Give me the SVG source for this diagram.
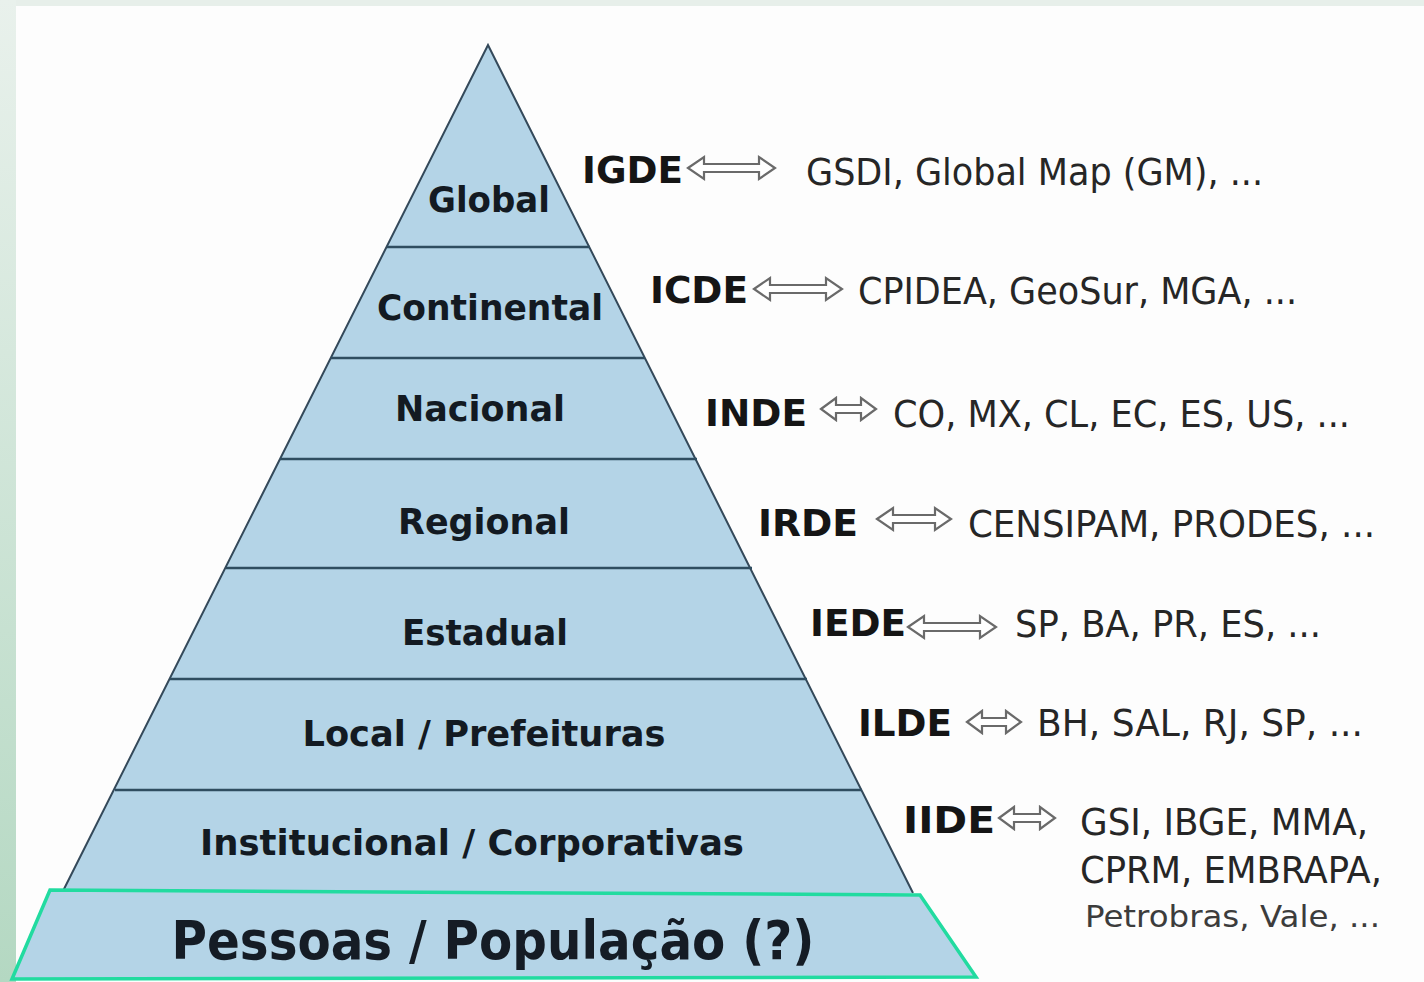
<svg xmlns="http://www.w3.org/2000/svg" width="1424" height="982" viewBox="0 0 1424 982">
<defs>
<linearGradient id="side" x1="0" y1="0" x2="0" y2="1">
<stop offset="0" stop-color="#e9f1ec"/>
<stop offset="1" stop-color="#b4d8c2"/>
</linearGradient>
<style>
.layer{fill:#b4d4e7;stroke:none}
.sep{stroke:#2f4d60;stroke-width:2.5;fill:none}
.edge{stroke:#34495a;stroke-width:2;fill:none}
.lbl{font-family:"DejaVu Sans",Verdana,sans-serif;font-weight:bold;font-size:35px;fill:#131a22;text-anchor:middle}
.code{font-family:"DejaVu Sans Condensed","DejaVu Sans",sans-serif;font-weight:bold;font-size:38px;fill:#151515}
.ex{font-family:"DejaVu Sans Condensed","DejaVu Sans",sans-serif;font-size:38px;fill:#262626}
.arr{fill:#ffffff;stroke:#6a6a6a;stroke-width:2.2;stroke-linejoin:miter}
</style>
</defs>
<rect x="0" y="0" width="1424" height="982" fill="#e7efea"/>
<rect x="0" y="0" width="16" height="982" fill="url(#side)"/>
<rect x="16" y="6" width="1408" height="976" fill="#fdfdfd"/>

<g id="pyramid">
<polygon class="layer" points="488,45 62,893 913,893"/>
<polyline class="edge" points="62,893 488,45 913,893"/>
<g class="seps">
<line class="sep" x1="387" y1="247" x2="590" y2="247"/>
<line class="sep" x1="331" y1="358" x2="645" y2="358"/>
<line class="sep" x1="280" y1="459" x2="697" y2="459"/>
<line class="sep" x1="226" y1="568" x2="752" y2="568"/>
<line class="sep" x1="170" y1="679" x2="807" y2="679"/>
<line class="sep" x1="115" y1="790" x2="862" y2="790"/>
</g>
</g>

<g id="n-global"><text class="lbl" x="489" y="212" textLength="122" lengthAdjust="spacingAndGlyphs">Global</text></g>
<g id="n-continental"><text class="lbl" x="490" y="320" textLength="226" lengthAdjust="spacingAndGlyphs">Continental</text></g>
<g id="n-nacional"><text class="lbl" x="480" y="421" textLength="170" lengthAdjust="spacingAndGlyphs">Nacional</text></g>
<g id="n-regional"><text class="lbl" x="484" y="534" textLength="172" lengthAdjust="spacingAndGlyphs">Regional</text></g>
<g id="n-estadual"><text class="lbl" x="485" y="645" textLength="166" lengthAdjust="spacingAndGlyphs">Estadual</text></g>
<g id="n-local"><text class="lbl" x="484" y="746" textLength="363" lengthAdjust="spacingAndGlyphs">Local / Prefeituras</text></g>
<g id="n-institucional"><text class="lbl" x="472" y="855" textLength="544" lengthAdjust="spacingAndGlyphs">Institucional / Corporativas</text></g>
<g id="n-pessoas">
<polygon points="50,890 920,895 976,977 12,979" fill="#b4d4e7" stroke="#22dba0" stroke-width="3.5" stroke-linejoin="miter"/>
<text x="493" y="959" font-family="'DejaVu Sans',sans-serif" font-weight="bold" font-size="54" fill="#151c25" text-anchor="middle" textLength="643" lengthAdjust="spacingAndGlyphs">Pessoas / População (?)</text>
</g>

<g id="connectors">
<path class="arr" d="M688,168 L704,157 L704,164 L759,164 L759,157 L775,168 L759,179 L759,172 L704,172 L704,179 Z"/>
<path class="arr" d="M754,289 L770,278 L770,285 L826,285 L826,278 L842,289 L826,300 L826,293 L770,293 L770,300 Z"/>
<path class="arr" d="M821,409 L836,398 L836,405 L861,405 L861,398 L876,409 L861,420 L861,413 L836,413 L836,420 Z"/>
<path class="arr" d="M877,519 L893,508 L893,515 L935,515 L935,508 L951,519 L935,530 L935,523 L893,523 L893,530 Z"/>
<path class="arr" d="M908,627 L924,616 L924,623 L980,623 L980,616 L996,627 L980,638 L980,631 L924,631 L924,638 Z"/>
<path class="arr" d="M967,722 L982,711 L982,718 L1006,718 L1006,711 L1021,722 L1006,733 L1006,726 L982,726 L982,733 Z"/>
<path class="arr" d="M999,818 L1014,807 L1014,814 L1040,814 L1040,807 L1055,818 L1040,829 L1040,822 L1014,822 L1014,829 Z"/>
</g>

<g id="n-igde"><text class="code" x="582" y="183" textLength="101" lengthAdjust="spacingAndGlyphs">IGDE</text><text class="ex" x="806" y="185" textLength="457" lengthAdjust="spacingAndGlyphs">GSDI, Global Map (GM), ...</text></g>
<g id="n-icde"><text class="code" x="650" y="303" textLength="98" lengthAdjust="spacingAndGlyphs">ICDE</text><text class="ex" x="858" y="304" textLength="439" lengthAdjust="spacingAndGlyphs">CPIDEA, GeoSur, MGA, ...</text></g>
<g id="n-inde"><text class="code" x="705" y="426" textLength="102" lengthAdjust="spacingAndGlyphs">INDE</text><text class="ex" x="893" y="427" textLength="457" lengthAdjust="spacingAndGlyphs">CO, MX, CL, EC, ES, US, ...</text></g>
<g id="n-irde"><text class="code" x="758" y="536" textLength="100" lengthAdjust="spacingAndGlyphs">IRDE</text><text class="ex" x="968" y="537" textLength="407" lengthAdjust="spacingAndGlyphs">CENSIPAM, PRODES, ...</text></g>
<g id="n-iede"><text class="code" x="810" y="636" textLength="96" lengthAdjust="spacingAndGlyphs">IEDE</text><text class="ex" x="1015" y="637" textLength="306" lengthAdjust="spacingAndGlyphs">SP, BA, PR, ES, ...</text></g>
<g id="n-ilde"><text class="code" x="858" y="736" textLength="94" lengthAdjust="spacingAndGlyphs">ILDE</text><text class="ex" x="1037" y="736" textLength="326" lengthAdjust="spacingAndGlyphs">BH, SAL, RJ, SP, ...</text></g>
<g id="n-iide">
<text class="code" x="903" y="833" textLength="92" lengthAdjust="spacingAndGlyphs">IIDE</text>
<text class="ex" x="1080" y="835" textLength="288" lengthAdjust="spacingAndGlyphs">GSI, IBGE, MMA,</text>
<text class="ex" x="1080" y="883" textLength="302" lengthAdjust="spacingAndGlyphs">CPRM, EMBRAPA,</text>
<text x="1085" y="927" font-family="'DejaVu Sans','Liberation Sans',sans-serif" font-size="31" fill="#3c3c3c" textLength="295" lengthAdjust="spacingAndGlyphs">Petrobras, Vale, ...</text>
</g>
</svg>
